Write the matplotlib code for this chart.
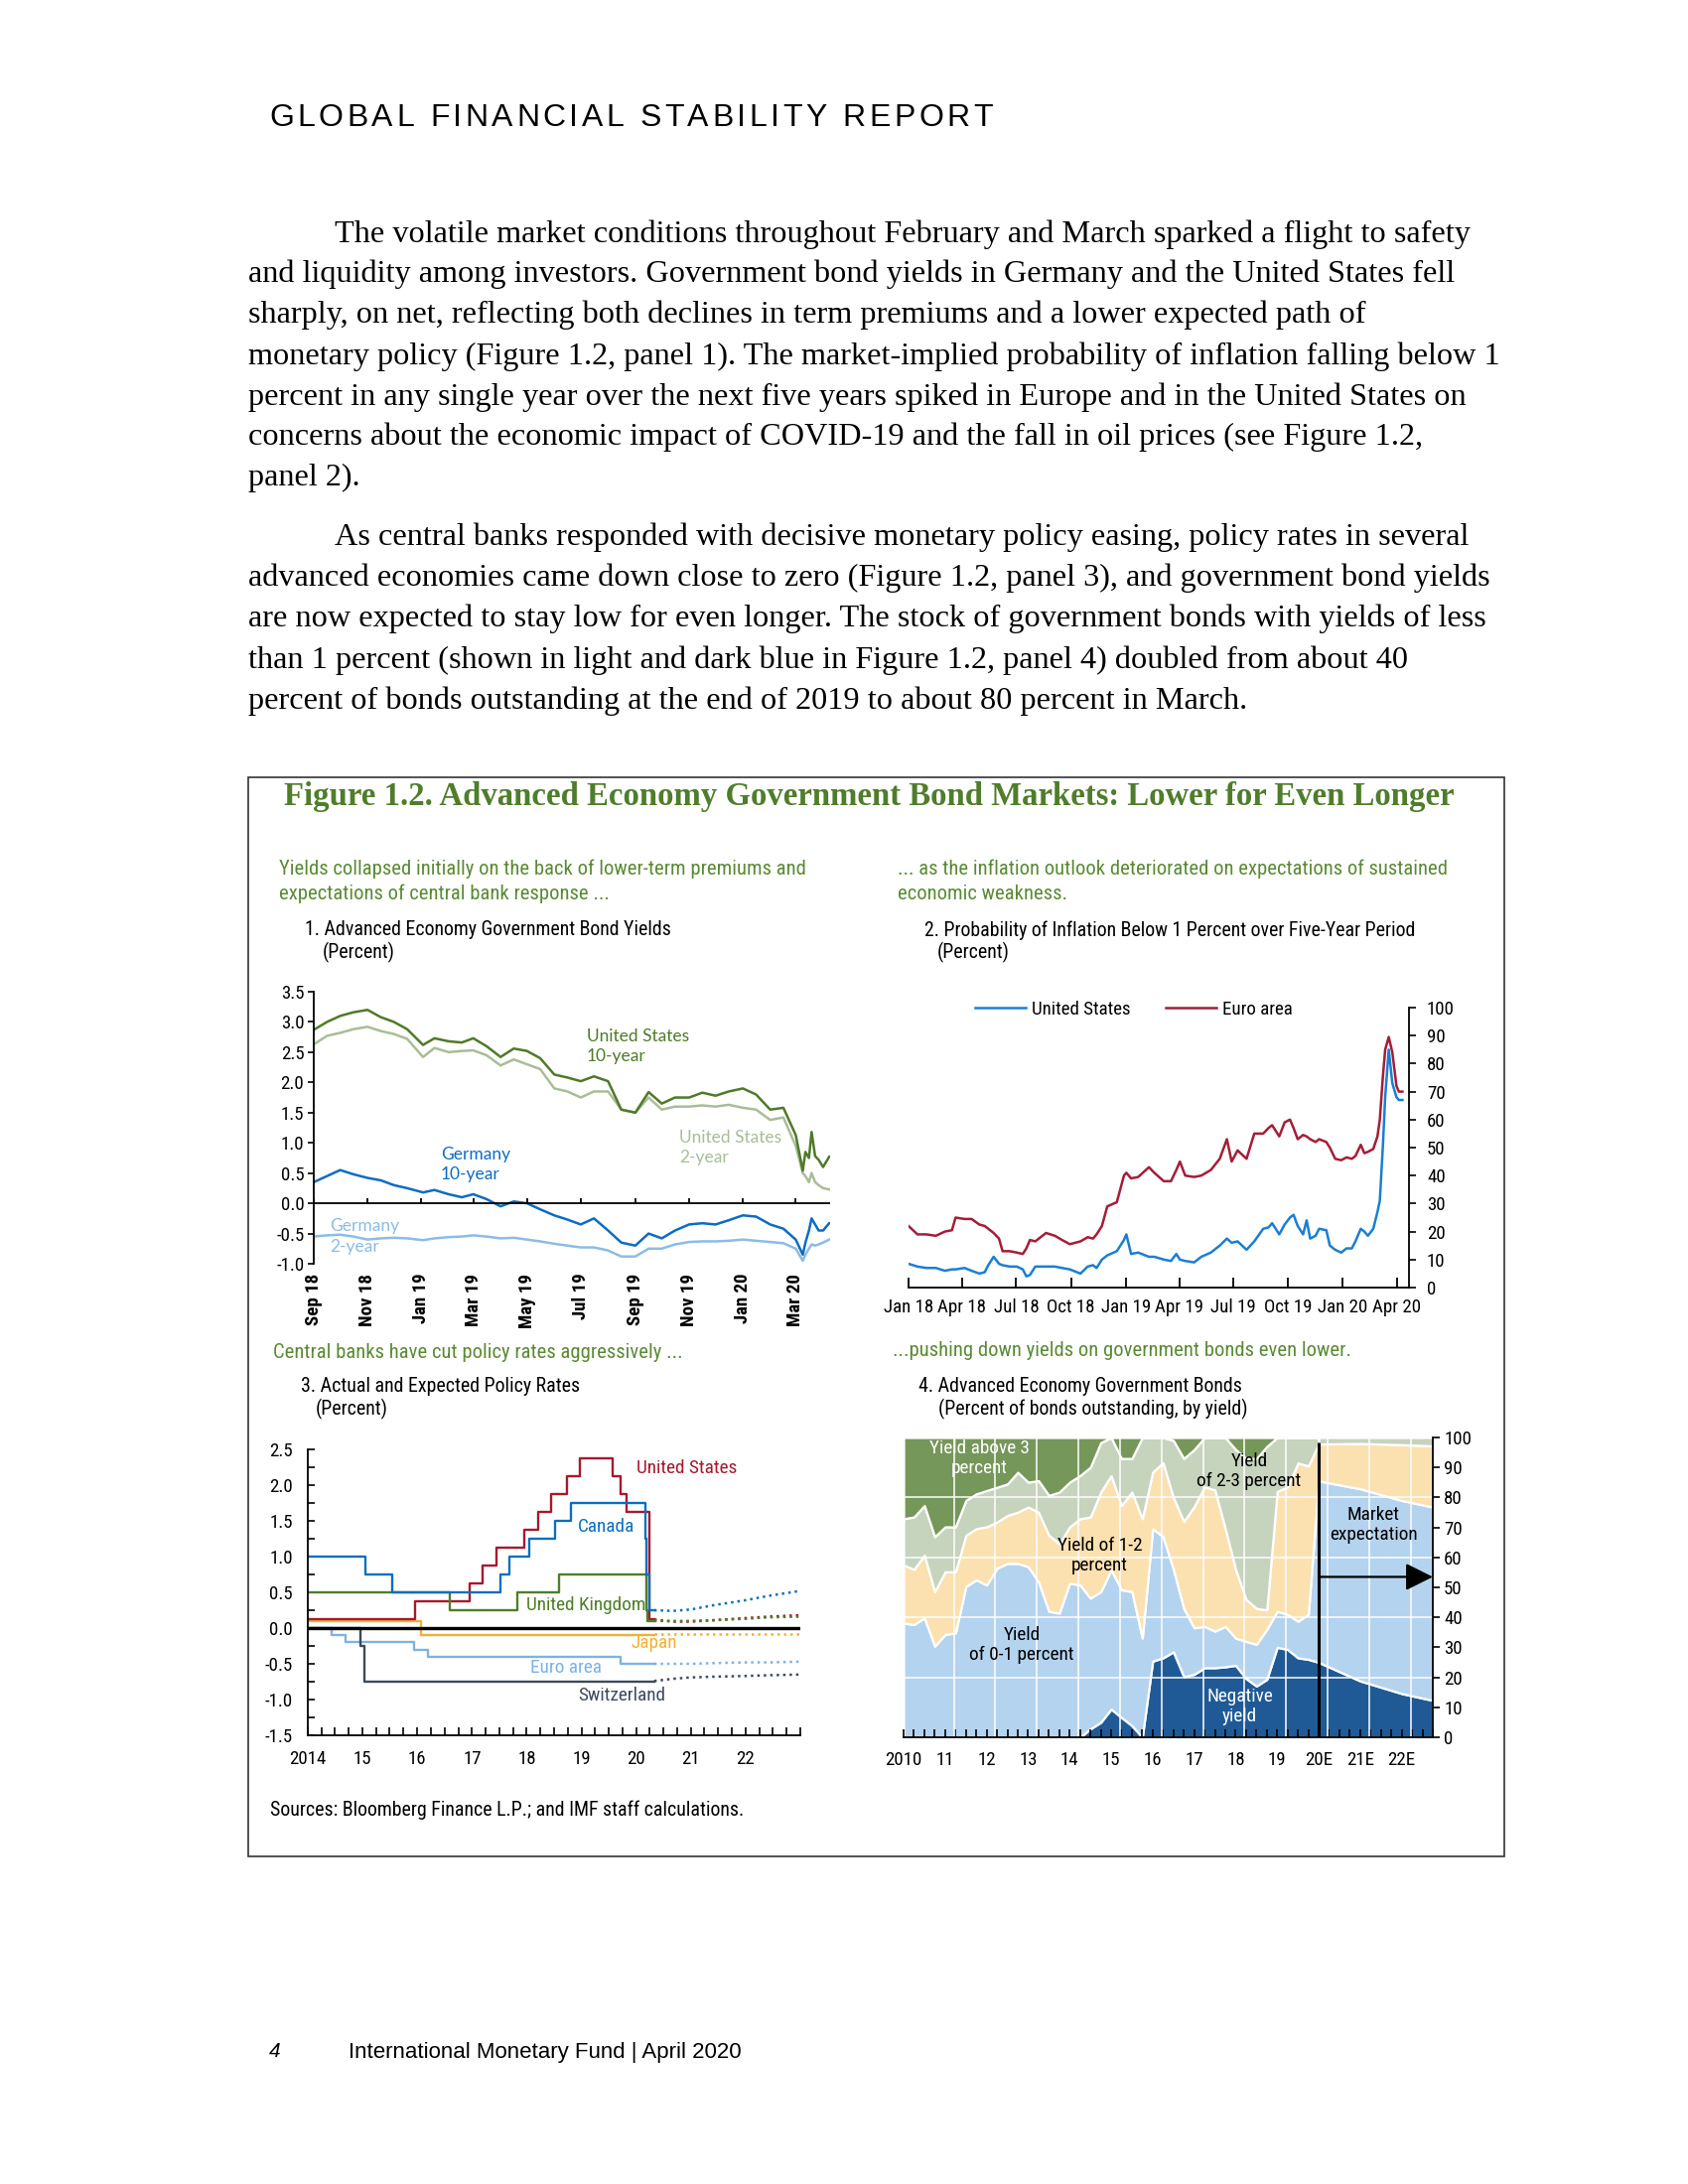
import numpy as np
import pandas as pd
import matplotlib
matplotlib.use('Agg')
import matplotlib.pyplot as plt
import matplotlib.dates as mdates
from matplotlib import font_manager as fm
from matplotlib.patches import Rectangle
from matplotlib.ticker import MultipleLocator, FormatStrFormatter

# ---------------- panel 1: government bond yields (percent)
p1_dates = ['2018-09-01', '2018-09-16', '2018-10-01', '2018-10-16', '2018-11-01', '2018-11-16',
            '2018-12-01', '2018-12-16', '2019-01-03', '2019-01-16', '2019-02-01', '2019-02-16',
            '2019-03-01', '2019-03-16', '2019-04-01', '2019-04-16', '2019-05-01', '2019-05-16',
            '2019-06-01', '2019-06-16', '2019-07-01', '2019-07-16', '2019-08-01', '2019-08-16',
            '2019-09-01', '2019-09-16', '2019-10-01', '2019-10-16', '2019-11-01', '2019-11-16',
            '2019-12-01', '2019-12-16', '2020-01-01', '2020-01-16', '2020-02-01', '2020-02-16',
            '2020-03-01', '2020-03-09', '2020-03-12', '2020-03-16', '2020-03-19', '2020-03-23',
            '2020-03-27', '2020-04-01', '2020-04-08']
us_10y = [2.87, 3.00, 3.10, 3.16, 3.20, 3.08, 3.00, 2.88, 2.62, 2.73, 2.68, 2.66,
          2.73, 2.60, 2.42, 2.56, 2.52, 2.40, 2.13, 2.08, 2.02, 2.10, 2.02, 1.55,
          1.50, 1.84, 1.65, 1.75, 1.75, 1.83, 1.78, 1.85, 1.90, 1.80, 1.55, 1.58,
          1.13, 0.54, 0.85, 0.75, 1.18, 0.78, 0.72, 0.60, 0.77]
us_2y = [2.63, 2.77, 2.82, 2.88, 2.92, 2.85, 2.80, 2.72, 2.42, 2.57, 2.50, 2.52,
         2.53, 2.45, 2.28, 2.38, 2.30, 2.22, 1.90, 1.85, 1.75, 1.85, 1.85, 1.55,
         1.50, 1.75, 1.55, 1.60, 1.60, 1.62, 1.60, 1.63, 1.58, 1.55, 1.38, 1.42,
         0.95, 0.50, 0.45, 0.35, 0.50, 0.35, 0.30, 0.25, 0.23]
de_10y = [0.35, 0.45, 0.55, 0.48, 0.42, 0.38, 0.30, 0.25, 0.18, 0.22, 0.15, 0.10,
          0.15, 0.07, -0.05, 0.03, 0.00, -0.10, -0.20, -0.27, -0.35, -0.25, -0.45, -0.65,
          -0.70, -0.50, -0.58, -0.45, -0.35, -0.33, -0.35, -0.28, -0.20, -0.22, -0.35, -0.42,
          -0.60, -0.85, -0.65, -0.45, -0.25, -0.35, -0.45, -0.45, -0.33]
de_2y = [-0.55, -0.53, -0.52, -0.55, -0.60, -0.58, -0.57, -0.58, -0.61, -0.58, -0.56, -0.55,
         -0.53, -0.55, -0.58, -0.57, -0.60, -0.63, -0.67, -0.70, -0.73, -0.73, -0.78, -0.88,
         -0.88, -0.75, -0.75, -0.68, -0.64, -0.63, -0.63, -0.62, -0.60, -0.62, -0.64, -0.66,
         -0.75, -0.95, -0.85, -0.75, -0.68, -0.70, -0.68, -0.65, -0.60]
p1_ticks = ['2018-09-01', '2018-11-01', '2019-01-01', '2019-03-01', '2019-05-01',
            '2019-07-01', '2019-09-01', '2019-11-01', '2020-01-01', '2020-03-01']
p1_ticklabels = ['Sep 18', 'Nov 18', 'Jan 19', 'Mar 19', 'May 19',
                 'Jul 19', 'Sep 19', 'Nov 19', 'Jan 20', 'Mar 20']

# ---------------- panel 2: probability of inflation below 1 percent
p2_dates = ['2018-01-01', '2018-01-16', '2018-01-31', '2018-02-16', '2018-03-03', '2018-03-15',
            '2018-03-21', '2018-04-05', '2018-04-17', '2018-04-30', '2018-05-09', '2018-05-15',
            '2018-05-24', '2018-06-02', '2018-06-08', '2018-06-20', '2018-07-02', '2018-07-12',
            '2018-07-18', '2018-07-24', '2018-08-02', '2018-08-20', '2018-09-04', '2018-09-16',
            '2018-09-29', '2018-10-17', '2018-10-29', '2018-11-07', '2018-11-13', '2018-11-22',
            '2018-12-01', '2018-12-17', '2018-12-29', '2019-01-02', '2019-01-10', '2019-01-22',
            '2019-02-09', '2019-02-18', '2019-03-06', '2019-03-18', '2019-03-27', '2019-04-02',
            '2019-04-11', '2019-04-26', '2019-05-08', '2019-05-24', '2019-06-08', '2019-06-20',
            '2019-06-28', '2019-07-08', '2019-07-23', '2019-08-05', '2019-08-20', '2019-08-29',
            '2019-09-04', '2019-09-16', '2019-09-25', '2019-10-04', '2019-10-10', '2019-10-17',
            '2019-10-26', '2019-11-01', '2019-11-07', '2019-11-16', '2019-11-22', '2019-12-04',
            '2019-12-10', '2019-12-19', '2019-12-29', '2020-01-07', '2020-01-16', '2020-01-22',
            '2020-01-31', '2020-02-06', '2020-02-12', '2020-02-21', '2020-02-28', '2020-03-03',
            '2020-03-08', '2020-03-12', '2020-03-18', '2020-03-24', '2020-03-31', '2020-04-04',
            '2020-04-10']
p2_ea = [22, 19, 19, 18.5, 20, 20.5, 25, 24.5, 24.5, 22.5, 22, 21,
         19.5, 17.5, 13, 13, 12.5, 12, 14, 17, 16.5, 19.5, 18.5, 17,
         15.5, 16.5, 18, 17.5, 19, 22, 29, 30.5, 40, 41, 39, 39.5,
         43, 41, 38, 38, 42, 45, 40, 39.5, 40, 42, 46, 53,
         45, 49, 46, 55, 55, 57, 58, 54, 59, 60, 57, 53,
         54.5, 54, 53, 52, 53, 52, 50, 46, 45.5, 46.5, 46, 47,
         51, 48, 48.5, 49.5, 54, 60, 75, 85, 89.5, 84, 72, 70, 70]
p2_us = [8.5, 7.5, 7, 7, 6, 6.5, 6.5, 7, 6, 5, 5.5, 8,
         11, 8.5, 8, 7.5, 7.5, 6.5, 4, 4.5, 7.5, 7.5, 7.5, 7,
         6.5, 5, 7.5, 8, 7, 10, 11.5, 13, 17, 19, 12, 12.5,
         11, 11, 10, 9.5, 12, 10, 9.5, 9, 11, 12.5, 15, 17.5,
         16, 16.5, 13.5, 16.5, 21, 21.5, 23, 19, 22.5, 25, 26, 22,
         19, 24, 17.5, 18.5, 21, 20.5, 15, 13.5, 12.5, 14, 14, 16.5,
         21, 20, 18.5, 21, 27, 31, 50, 68, 85, 73, 68, 67, 67]
p2_ticks = ['2018-01-01', '2018-04-01', '2018-07-01', '2018-10-01', '2019-01-01',
            '2019-04-01', '2019-07-01', '2019-10-01', '2020-01-01', '2020-04-01']
p2_ticklabels = ['Jan 18', 'Apr 18', 'Jul 18', 'Oct 18', 'Jan 19',
                 'Apr 19', 'Jul 19', 'Oct 19', 'Jan 20', 'Apr 20']

# ---------------- panel 3: actual policy rates (change dates) and market expectations
us_rate_dates = ['2014-01-01', '2015-12-16', '2016-12-14', '2017-03-15', '2017-06-14', '2017-12-13',
                 '2018-03-21', '2018-06-13', '2018-09-26', '2018-12-19', '2019-07-31', '2019-09-18',
                 '2019-10-30', '2020-03-31', '2020-04-30']
us_rate = [0.125, 0.375, 0.625, 0.875, 1.125, 1.375, 1.625, 1.875, 2.125, 2.375, 2.125, 1.875,
           1.625, 0.125, 0.125]
ca_rate_dates = ['2014-01-01', '2015-01-21', '2015-07-15', '2017-07-12', '2017-09-06', '2018-01-17',
                 '2018-07-11', '2018-10-24', '2020-03-04', '2020-03-13', '2020-03-27', '2020-04-30']
ca_rate = [1.0, 0.75, 0.5, 0.75, 1.0, 1.25, 1.5, 1.75, 1.25, 0.75, 0.25, 0.25]
uk_rate_dates = ['2014-01-01', '2016-08-04', '2017-11-02', '2018-08-02', '2020-03-11', '2020-03-19',
                 '2020-04-30']
uk_rate = [0.5, 0.25, 0.5, 0.75, 0.25, 0.1, 0.1]
jp_rate_dates = ['2014-01-01', '2016-01-29', '2020-04-30']
jp_rate = [0.1, -0.1, -0.1]
ea_rate_dates = ['2014-01-01', '2014-06-11', '2014-09-10', '2015-12-09', '2016-03-16', '2019-09-18',
                 '2020-04-30']
ea_rate = [0.0, -0.1, -0.2, -0.3, -0.4, -0.5, -0.5]
ch_rate_dates = ['2014-01-01', '2014-12-18', '2015-01-15', '2020-04-30']
ch_rate = [0.0, -0.25, -0.75, -0.75]

fwd_dates = ['2020-05-01', '2020-09-01', '2021-01-01', '2021-06-01', '2022-01-01', '2022-06-01', '2022-12-31']
ca_fwd = [0.25, 0.24, 0.26, 0.32, 0.39, 0.45, 0.52]
us_fwd = [0.12, 0.09, 0.09, 0.11, 0.14, 0.16, 0.18]
uk_fwd = [0.10, 0.10, 0.10, 0.11, 0.13, 0.15, 0.16]
jp_fwd = [-0.08, -0.08, -0.08, -0.08, -0.08, -0.08, -0.08]
ea_fwd = [-0.50, -0.50, -0.50, -0.49, -0.48, -0.48, -0.47]
ch_fwd = [-0.74, -0.71, -0.69, -0.68, -0.67, -0.66, -0.65]
p3_years = ['2014', '15', '16', '17', '18', '19', '20', '21', '22']

# ---------------- panel 4: share of bonds outstanding by yield (quarterly, 2010Q1-2020Q1)
neg_hist = [0, 0, 0, 0, 0, 0, 0, 0, 0, 0, 0, 0, 0, 0, 0, 0, 0, 0, 2.8, 5.0,
            9.4, 6.6, 3.9, 0, 25.4, 26.5, 28.5, 20.2, 21.0, 23.2, 23.2, 23.5, 24.0, 19.6, 17.1,
            19.3, 30.0, 29.3, 26.5, 26.0, 25.0]
y01_hist = [38.1, 37.6, 39.8, 30.4, 34.3, 34.8, 50.3, 52.5, 50.8, 56.4, 58.0, 58.0, 56.9, 51.9, 42.0,
            41.4, 51.4, 50.8, 43.6, 43.6, 46.4, 42.6, 44.7, 33.1, 44.1, 40.5, 27.5, 22.8, 15.5, 13.8,
            12.2, 13.5, 9.1, 12.4, 13.9, 16.7, 12.0, 11.7, 12.2, 15.0, 60.5]
y12_hist = [19.4, 18.4, 21.0, 18.2, 20.9, 20.4, 17.1, 17.1, 19.4, 15.4, 16.0, 17.1, 19.9, 23.2, 25.4,
            23.2, 18.8, 22.1, 27.1, 33.2, 31.5, 28.1, 33.2, 39.8, 19.0, 24.6, 24.0, 29.0, 40.5, 46.5,
            47.1, 32.6, 22.9, 14.0, 12.0, 6.5, 40.0, 42.5, 52.8, 49.5, 12.3]
y23_hist = [15.4, 17.5, 16.5, 18.3, 15.0, 15.0, 11.6, 11.6, 12.1, 11.6, 10.5, 13.3, 8.3, 10.5, 13.3,
            17.2, 14.9, 14.4, 16.6, 16.5, 12.7, 15.7, 11.2, 27.1, 11.5, 8.4, 19.0, 21.0, 19.0, 16.5,
            17.5, 30.4, 40.0, 47.0, 50.0, 54.5, 18.0, 16.5, 8.5, 9.5, 2.2]
y3p_hist = [27.1, 26.5, 22.7, 33.1, 29.8, 29.8, 21.0, 18.8, 17.7, 16.6, 15.5, 11.6, 14.9, 14.4, 19.3,
            18.2, 14.9, 12.7, 9.9, 1.7, 0, 7.0, 7.0, 0, 0, 0, 1.0, 7.0, 4.0, 0,
            0, 0, 4.0, 7.0, 7.0, 3.0, 0, 0, 0, 0, 0]
fc_quarters = ['2020Q1', '2021Q1', '2022Q1', '2022Q4']
neg_fc = [25.0, 18.8, 14.6, 12.3]
y01_fc = [60.5, 64.1, 64.4, 64.5]
y12_fc = [12.3, 15.1, 18.6, 20.4]
y2p_fc = [2.2, 2.0, 2.4, 2.8]
p4_years = ['2010', '11', '12', '13', '14', '15', '16', '17', '18', '19', '20E', '21E', '22E']

# ---------------- fonts: look for a narrow sans (Arial Narrow look-alike)
entries = [(f.name, str(f.stretch)) for f in fm.fontManager.ttflist]
names = {n for n, s in entries}
NARROW, NSTRETCH = 'Liberation Sans', 'normal'
for p in ['Liberation Sans Narrow', 'Arial Narrow', 'Roboto Condensed', 'Open Sans Condensed',
          'Noto Sans Condensed', 'DejaVu Sans Condensed']:
    if p in names:
        NARROW = p
        break
else:
    for base in ['Noto Sans', 'Roboto', 'Open Sans', 'DejaVu Sans']:
        if any(n == base and 'condensed' in s and 'extra' not in s and 'ultra' not in s
               for n, s in entries):
            NARROW, NSTRETCH = base, 'condensed'
            break
SERIF = 'Liberation Serif'
SANS = 'Liberation Sans'
CAL = 'Lato' if 'Lato' in names else 'DejaVu Sans'
plt.rcParams['font.family'] = [NARROW, 'DejaVu Sans']
plt.rcParams['font.stretch'] = NSTRETCH
plt.rcParams['axes.unicode_minus'] = False

GREEN_T = '#4f7d2b'
GREEN_S = '#5b8a35'

W, H = 1700, 2200
fig = plt.figure(figsize=(17, 22), dpi=100)
renderer = fig.canvas.get_renderer()


def px_axes(l, t, r, b):
    return fig.add_axes([l / W, 1 - b / H, (r - l) / W, (b - t) / H])


def ptext(x, y, s, **kw):
    kw.setdefault('va', 'center')
    return fig.text(x / W, 1 - y / H, s, **kw)


def fit(s, width, family, weight='normal', style='normal', base=20.0):
    t = ptext(0, 100, s, fontsize=base, family=family, weight=weight, style=style)
    w = t.get_window_extent(renderer).width
    t.remove()
    return base * width / w


# ---------------- page header (letter spaced)
header = 'GLOBAL FINANCIAL STABILITY REPORT'
hsize = 23
hprop = fm.FontProperties(family=SANS, size=hsize, stretch='normal')
cw = []
for c in header:
    if c == ' ':
        cw.append(0.28 * hsize * 100 / 72)
    else:
        cw.append(renderer.get_text_width_height_descent(c, hprop, ismath=False)[0])
gap = (1000 - 271 - sum(cw)) / (len(header) - 1)
x = 271
for c, w in zip(header, cw):
    if c != ' ':
        ptext(x, 119, c, fontsize=hsize, family=SANS, ha='left')
    x += w + gap

# ---------------- body text
body = [
    (337, 236, 1494, 'The volatile market conditions throughout February and March sparked a flight to safety'),
    (250, 276, 1464, 'and liquidity among investors. Government bond yields in Germany and the United States fell'),
    (250, 317, 1382, 'sharply, on net, reflecting both declines in term premiums and a lower expected path of'),
    (250, 359, 1490, 'monetary policy (Figure 1.2, panel 1). The market-implied probability of inflation falling below 1'),
    (250, 400, 1473, 'percent in any single year over the next five years spiked in Europe and in the United States on'),
    (250, 440, 1459, 'concerns about the economic impact of COVID-19 and the fall in oil prices (see Figure 1.2,'),
    (250, 481, 360, 'panel 2).'),
    (337, 541, 1476, 'As central banks responded with decisive monetary policy easing, policy rates in several'),
    (250, 582, 1497, 'advanced economies came down close to zero (Figure 1.2, panel 3), and government bond yields'),
    (250, 623, 1497, 'are now expected to stay low for even longer. The stock of government bonds with yields of less'),
    (250, 665, 1418, 'than 1 percent (shown in light and dark blue in Figure 1.2, panel 4) doubled from about 40'),
    (250, 706, 1267, 'percent of bonds outstanding at the end of 2019 to about 80 percent in March.'),
]
bsize = float(np.median([fit(s, r - l, SERIF) for l, y, r, s in body]))
for l, y, r, s in body:
    ptext(l, y, s, fontsize=bsize, family=SERIF, ha='left')

# ---------------- figure box and title
fig.add_artist(Rectangle((250 / W, 1 - 1870 / H), (1515 - 250) / W, (1870 - 783) / H,
                         transform=fig.transFigure, fill=False, lw=1.2, edgecolor='#333333'))
title = 'Figure 1.2. Advanced Economy Government Bond Markets: Lower for Even Longer'
ptext(286, 802, title, fontsize=fit(title, 1177, SERIF, weight='bold'), family=SERIF,
      weight='bold', color=GREEN_T, ha='left')

subs = [(281, 875, 526, 'Yields collapsed initially on the back of lower-term premiums and'),
        (904, 875, 542, '... as the inflation outlook deteriorated on expectations of sustained'),
        (275, 1362, 413, 'Central banks have cut policy rates aggressively ...'),
        (899, 1360, 464, '...pushing down yields on government bonds even lower.')]
ssize = float(np.median([fit(s, w, NARROW) for x, y, w, s in subs]))
for x, y, w, s in subs:
    ptext(x, y, s, fontsize=ssize, color=GREEN_S, ha='left')
ptext(281, 900, 'expectations of central bank response ...', fontsize=ssize, color=GREEN_S, ha='left')
ptext(904, 900, 'economic weakness.', fontsize=ssize, color=GREEN_S, ha='left')

titles = [(307, 937, 373, '1. Advanced Economy Government Bond Yields'),
          (931, 937, 492, '2. Probability of Inflation Below 1 Percent over Five-Year Period'),
          (303, 1397, 276, '3. Actual and Expected Policy Rates'),
          (925, 1397, 329, '4. Advanced Economy Government Bonds')]
tsize = float(np.median([fit(s, w, NARROW) for x, y, w, s in titles]))
for x, y, w, s in titles:
    ptext(x, y, s, fontsize=tsize, ha='left')
ptext(325, 959, '(Percent)', fontsize=tsize, ha='left')
ptext(944, 959, '(Percent)', fontsize=tsize, ha='left')
ptext(318, 1419, '(Percent)', fontsize=tsize, ha='left')
ptext(945, 1419, '(Percent of bonds outstanding, by yield)', fontsize=tsize, ha='left')
ptext(272, 1823, 'Sources: Bloomberg Finance L.P.; and IMF staff calculations.', fontsize=tsize, ha='left')

tick = tsize * 0.95

# ---------------- panel 1
ax1 = px_axes(316, 999, 836, 1273)
d1 = pd.to_datetime(p1_dates)
ax1.plot(d1, us_2y, color='#a9bd97', lw=1.8)
ax1.plot(d1, us_10y, color='#4f7a28', lw=1.8)
ax1.plot(d1, de_2y, color='#8cbce6', lw=1.8)
ax1.plot(d1, de_10y, color='#0d6cc4', lw=1.8)
ax1.set_xlim(pd.Timestamp('2018-09-01'), pd.Timestamp('2020-04-09'))
ax1.set_ylim(-1.0, 3.5)
for s in ['top', 'right', 'bottom']:
    ax1.spines[s].set_visible(False)
ax1.spines['left'].set_linewidth(1.3)
ax1.axhline(0, color='black', lw=1.3)
t1 = pd.to_datetime(p1_ticks)
ax1.vlines(t1, 0, 0.09, color='black', lw=1.3)
ax1.set_xticks(t1)
ax1.set_xticklabels(p1_ticklabels, rotation=90, fontweight='bold', fontsize=tick)
ax1.tick_params(axis='x', length=0, pad=7)
ax1.yaxis.set_major_locator(MultipleLocator(0.5))
ax1.yaxis.set_major_formatter(FormatStrFormatter('%.1f'))
ax1.tick_params(axis='y', direction='out', length=4, width=1.2, labelsize=tick, pad=3)
ax1.patch.set_visible(False)
lab = dict(family=CAL, fontsize=12.5, ha='left', va='center', linespacing=1.35, stretch='normal')
ax1.text(mdates.date2num(pd.Timestamp('2019-07-08')), 2.6, 'United States\n10-year', color='#4f7a28', **lab)
ax1.text(mdates.date2num(pd.Timestamp('2019-10-21')), 0.92, 'United States\n2-year', color='#a9bd97', **lab)
ax1.text(mdates.date2num(pd.Timestamp('2019-01-23')), 0.645, 'Germany\n10-year', color='#0d6cc4', **lab)
ax1.text(mdates.date2num(pd.Timestamp('2018-09-19')), -0.545, 'Germany\n2-year', color='#8cbce6', **lab)

# ---------------- panel 2
ax2 = px_axes(915, 1015, 1419, 1297)
d2 = pd.to_datetime(p2_dates)
l_ea, = ax2.plot(d2, p2_ea, color='#a51d38', lw=1.8, label='Euro area')
l_us, = ax2.plot(d2, p2_us, color='#1a7fd4', lw=1.8, label='United States')
ax2.set_xlim(pd.Timestamp('2018-01-01'), pd.Timestamp('2020-04-21'))
ax2.set_ylim(0, 100)
for s in ['top', 'left']:
    ax2.spines[s].set_visible(False)
ax2.spines['right'].set_linewidth(1.3)
ax2.spines['bottom'].set_linewidth(1.3)
ax2.yaxis.tick_right()
ax2.yaxis.set_major_locator(MultipleLocator(10))
ax2.tick_params(axis='y', direction='out', length=5, width=1.2, labelsize=tick, pad=8)
ax2.set_xticks(pd.to_datetime(p2_ticks))
ax2.set_xticklabels(p2_ticklabels, fontsize=tick)
ax2.tick_params(axis='x', direction='in', length=7, width=1.3, pad=8)
ax2.patch.set_visible(False)
ax2.legend([l_us, l_ea], ['United States', 'Euro area'], loc='center left',
           bbox_to_anchor=(0.133, 0.993), ncol=2, frameon=False, fontsize=tick,
           handlelength=2.7, handletextpad=0.3, columnspacing=1.9, borderpad=0, borderaxespad=0)

# ---------------- panel 3
ax3 = px_axes(310, 1460, 806, 1748)
series3 = [(jp_rate_dates, jp_rate, jp_fwd, '#f2b134'),
           (ea_rate_dates, ea_rate, ea_fwd, '#7db3e3'),
           (ch_rate_dates, ch_rate, ch_fwd, '#3c4a5e'),
           (us_rate_dates, us_rate, us_fwd, '#a6192e'),
           (uk_rate_dates, uk_rate, uk_fwd, '#4f7f2a'),
           (ca_rate_dates, ca_rate, ca_fwd, '#0c6fc0')]
for dts, vals, fwd, col in series3:
    ax3.plot(pd.to_datetime(dts), vals, color=col, lw=1.7, drawstyle='steps-post')
    ax3.plot(pd.to_datetime(fwd_dates), fwd, color=col, lw=1.8, linestyle=(0, (1, 1.6)))
ax3.axhline(0, color='black', lw=2.4, zorder=3)
ax3.set_xlim(pd.Timestamp('2014-01-01'), pd.Timestamp('2023-01-01'))
ax3.set_ylim(-1.5, 2.5)
for s in ['top', 'right']:
    ax3.spines[s].set_visible(False)
ax3.spines['left'].set_linewidth(1.3)
ax3.spines['bottom'].set_linewidth(1.3)
ax3.xaxis.set_minor_locator(mdates.MonthLocator(bymonth=[1, 4, 7, 10]))
ax3.set_xticks(pd.to_datetime(['%d-01-01' % y for y in range(2014, 2024)]))
ax3.set_xticklabels(p3_years + [''], fontsize=tick)
ax3.tick_params(axis='x', which='both', direction='in', length=6, width=1.2, pad=11)
ax3.yaxis.set_major_locator(MultipleLocator(0.5))
ax3.yaxis.set_minor_locator(MultipleLocator(0.25))
ax3.yaxis.set_major_formatter(FormatStrFormatter('%.1f'))
ax3.tick_params(axis='y', which='both', direction='in', length=5, width=1.2, labelsize=tick, pad=11)
ax3.patch.set_visible(False)
lab3 = dict(fontsize=tick * 1.02, ha='left', va='center')
ax3.text(mdates.date2num(pd.Timestamp('2020-01-01')), 2.23, 'United States', color='#a6192e', **lab3)
ax3.text(mdates.date2num(pd.Timestamp('2018-12-05')), 1.42, 'Canada', color='#0c6fc0', **lab3)
ax3.text(mdates.date2num(pd.Timestamp('2017-12-28')), 0.32, 'United Kingdom', color='#4f7f2a', **lab3)
ax3.text(mdates.date2num(pd.Timestamp('2019-11-25')), -0.21, 'Japan', color='#f2b134', **lab3)
ax3.text(mdates.date2num(pd.Timestamp('2018-01-25')), -0.55, 'Euro area', color='#7db3e3', **lab3)
ax3.text(mdates.date2num(pd.Timestamp('2018-12-12')), -0.95, 'Switzerland', color='#3c4a5e', **lab3)

# ---------------- panel 4
ax4 = px_axes(910, 1448, 1443, 1750)
q_hist = np.arange(len(neg_hist))
q_fc = [(int(q[:4]) - 2010) * 4 + int(q[-1]) - 1 for q in fc_quarters]
c_neg, c01, c12, c23, c3p = '#1f5a96', '#b4d3ef', '#fbe1b0', '#c6d3bd', '#76975a'
ax4.stackplot(q_hist, neg_hist, y01_hist, y12_hist, y23_hist, y3p_hist,
              colors=[c_neg, c01, c12, c23, c3p], edgecolor='white', linewidth=1.6)
ax4.stackplot(q_fc, neg_fc, y01_fc, y12_fc, y2p_fc,
              colors=[c_neg, c01, c12, c23], edgecolor='white', linewidth=1.6)
for v in [20, 40, 60, 80]:
    ax4.axhline(v, color='white', lw=1.1, zorder=2.5)
for v in np.arange(4.85, 51, 4):
    ax4.axvline(v, color='white', lw=1.1, zorder=2.5)
ax4.vlines(40, 0, 98.3, color='black', lw=2.2, zorder=4)
ax4.annotate('', xy=(51, 53.5), xytext=(40, 53.5),
             arrowprops=dict(arrowstyle='-|>,head_length=0.6,head_width=0.3', color='black',
                             lw=1.6, mutation_scale=28, shrinkA=0, shrinkB=0), zorder=4)
ax4.set_xlim(0, 51)
ax4.set_ylim(0, 100)
for s in ['top', 'left']:
    ax4.spines[s].set_visible(False)
ax4.spines['right'].set_linewidth(1.3)
ax4.spines['bottom'].set_linewidth(1.3)
ax4.spines['bottom'].set_zorder(5)
ax4.yaxis.tick_right()
ax4.yaxis.set_major_locator(MultipleLocator(10))
ax4.tick_params(axis='y', direction='out', length=5, width=1.2, labelsize=tick, pad=3)
ax4.set_xticks(np.arange(0, 49, 4))
ax4.set_xticklabels(p4_years, fontsize=tick)
ax4.xaxis.set_minor_locator(MultipleLocator(1))
ax4.tick_params(axis='x', which='both', direction='in', length=6, width=1.2, pad=10)
lab4 = dict(fontsize=tick * 1.02, ha='center', va='center', linespacing=1.15, zorder=6)
ax4.text(7.3, 93, 'Yield above 3\npercent', color='white', **lab4)
ax4.text(18.9, 60.5, 'Yield of 1-2\npercent', color='black', **lab4)
ax4.text(11.4, 30.7, 'Yield\nof 0-1 percent', color='black', **lab4)
ax4.text(33.3, 88.7, 'Yield\nof 2-3 percent', color='black', **lab4)
ax4.text(45.3, 71, 'Market\nexpectation', color='black', **lab4)
ax4.text(32.4, 10.2, 'Negative\nyield', color='white', **lab4)

# ---------------- footer
ptext(271, 2067, '4', fontsize=15, family=SANS, style='italic', ha='left')
foot = 'International Monetary Fund | April 2020'
ptext(351, 2067, foot, fontsize=fit(foot, 394, SANS), family=SANS, ha='left')

fig.savefig('out.png', dpi=100)
